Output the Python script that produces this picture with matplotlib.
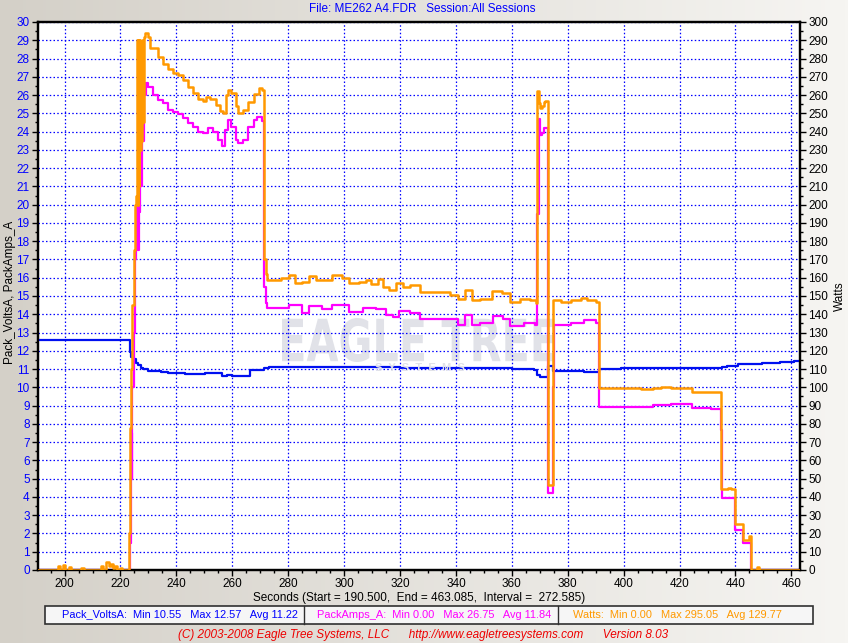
import numpy as np
import matplotlib
matplotlib.use('Agg')
import matplotlib.pyplot as plt
from matplotlib.patches import Rectangle, PathPatch
from matplotlib.textpath import TextPath
from matplotlib.font_manager import FontProperties
from matplotlib.transforms import Affine2D
from matplotlib.ticker import MultipleLocator

plt.rcParams['font.family'] = ['Liberation Sans', 'DejaVu Sans']

# ---- data ----
volts_t = [190.5, 223.3, 223.9, 224.5, 225.6, 226.3, 227.2, 228.1, 229.9, 232.3, 234.6, 237.0,
           243.0, 250.2, 256.2, 258.0, 259.8, 266.4, 271.2, 273.0, 275.4, 300.0, 320.0, 340.0,
           360.0, 368.0, 369.1, 370.0, 372.9, 374.9, 385.7, 391.1, 399.0, 435.2, 436.8, 441.0,
           449.4, 456.0, 461.1, 463.085]
volts_v = [12.57, 11.95, 11.68, 11.57, 11.31, 11.22, 11.04, 10.98, 10.91, 10.87, 10.82, 10.76,
           10.71, 10.76, 10.62, 10.67, 10.64, 10.95, 11.04, 11.13, 11.12, 11.10, 11.08, 11.05,
           11.03, 10.95, 10.67, 10.55, 11.15, 10.91, 10.84, 11.02, 11.06, 11.13, 11.18, 11.26,
           11.33, 11.40, 11.44, 11.44]

amps_t = [190.5, 223.0, 223.3, 223.6, 224.0, 224.3, 224.7, 225.1, 225.5, 225.8, 226.1, 226.5,
          226.8, 227.0, 227.3, 227.6, 228.0, 228.4, 229.0, 229.9, 231.6, 233.4, 235.2, 237.0,
          238.8, 240.6, 242.4, 244.2, 246.0, 247.8, 249.6, 251.4, 253.2, 255.0, 256.4, 257.5,
          258.6, 259.7, 261.2, 262.2, 264.0, 265.8, 267.6, 268.7, 270.8, 271.2, 271.9, 272.3,
          280.2, 285.0, 287.4, 292.2, 295.8, 301.8, 306.6, 311.4, 315.0, 317.4, 319.8, 323.4,
          327.0, 337.8, 340.8, 343.2, 345.6, 348.6, 353.4, 357.0, 359.4, 364.2, 368.4, 369.0,
          369.6, 369.9, 370.2, 370.8, 371.4, 372.9, 374.9, 375.2, 381.0, 385.7, 390.0, 391.1,
          410.4, 417.0, 424.3, 431.3, 434.9, 435.2, 440.0, 442.7, 445.6, 463.085]
amps_v = [0.0, 0.0, 1.5, 7.5, 5.0, 10.0, 13.0, 17.0, 17.5, 20.0, 17.5, 20.0,
          19.6, 23.5, 21.0, 25.0, 23.5, 26.0, 26.67, 26.45, 26.0, 25.73, 25.54, 25.2,
          25.08, 24.94, 24.72, 24.45, 24.23, 23.99, 23.94, 24.18, 23.99, 23.54, 23.2, 24.08,
          24.63, 24.27, 23.54, 23.35, 23.54, 24.27, 24.63, 24.81, 24.6, 15.5, 14.6, 14.32,
          14.5, 14.08, 14.45, 14.27, 14.5, 14.13, 14.32, 14.27, 13.96, 13.83, 14.2, 14.05,
          13.72, 13.72, 13.41, 13.96, 13.41, 13.5, 13.9, 13.72, 13.35, 13.53, 13.41, 19.5,
          24.7, 23.99, 23.8, 23.9, 24.17, 4.2, 10.0, 13.41, 13.54, 13.68, 13.54, 8.94,
          9.01, 9.09, 8.85, 8.83, 7.66, 3.92, 2.19, 1.46, 0.0, 0.0]

watts_t = [190.5, 197.5, 198.3, 199.5, 200.2, 201.5, 202.2, 206.0, 206.8, 213.0, 213.6, 215.0,
           215.8, 216.5, 217.3, 218.0, 218.8, 220.0, 220.6, 222.9, 223.2, 223.5, 223.9, 224.3,
           224.7, 225.1, 225.5, 225.8, 226.0, 226.2, 226.4, 226.6, 226.8, 227.0, 227.2, 227.5,
           227.8, 228.1, 228.4, 228.7, 229.9, 230.7, 231.6, 233.4, 235.2, 237.0, 238.8, 240.6,
           242.4, 244.2, 246.0, 247.8, 249.6, 250.7, 252.1, 254.3, 255.7, 256.8, 257.9, 258.6,
           259.7, 261.2, 262.2, 264.0, 265.8, 267.6, 269.4, 270.5, 271.2, 271.5, 271.9, 272.3,
           277.6, 280.2, 282.6, 285.0, 287.4, 289.8, 292.2, 295.8, 299.4, 301.8, 305.4, 307.8,
           309.6, 312.0, 313.8, 316.2, 318.6, 321.0, 323.4, 327.0, 331.8, 337.8, 340.8, 343.2,
           345.6, 348.6, 352.8, 356.4, 359.4, 363.0, 366.6, 368.7, 369.0, 369.6, 370.2, 370.8,
           371.4, 372.0, 372.9, 374.9, 377.5, 381.0, 384.6, 387.0, 390.0, 391.1, 406.2, 410.4,
           413.5, 417.0, 424.3, 428.0, 434.9, 437.5, 438.5, 440.0, 442.7, 444.9, 445.6, 447.7,
           448.3, 463.085]
watts_v = [0, 2, 0, 3, 0, 1.5, 0, 1, 0, 2, 0, 4.5,
           2, 3.5, 1, 2, 0, 1, 0, 0, 20, 78, 110, 145,
           175, 200, 205, 235, 290, 200, 290, 210, 290, 230, 287, 235,
           290, 245, 292, 294, 292, 286, 285.5, 281, 277, 274, 272, 271,
           268.5, 264.5, 261, 258, 257, 259, 258, 254.5, 251.4, 250, 260, 262.7,
           261, 254, 250, 251.8, 256.3, 260.5, 263.7, 262.7, 262, 170, 162, 159,
           160, 161.5, 157.3, 157.7, 160.9, 159, 158.8, 161.5, 159.7, 157.3, 157.7, 159,
           156.5, 159.2, 155.1, 153.3, 157.3, 155.1, 156, 152.3, 152.3, 150.5, 148.2, 153.3,
           147.8, 148.2, 152.7, 151.4, 146.9, 148.2, 147.8, 146.4, 262, 255.4, 252.7, 254,
           256.3, 257, 46.5, 148, 146.9, 148, 149, 148, 146.9, 99.4, 98.9, 99.4,
           100, 99.4, 97.6, 97.2, 44.2, 45, 44.2, 25.2, 16.4, 18.8, 0, 1.5,
           0, 0]

stats_text = ["Pack_VoltsA:  Min 10.55   Max 12.57   Avg 11.22",
              "PackAmps_A:  Min 0.00   Max 26.75   Avg 11.84",
              "Watts:  Min 0.00   Max 295.05   Avg 129.77"]

W, H = 848, 643
fig = plt.figure(figsize=(W / 100, H / 100), dpi=100)


def fx(px):
    return px / W


def fy(py):
    return 1 - py / H


# grey window background
bg = fig.add_axes([0, 0, 1, 1], zorder=-10)
grad = np.linspace(0, 1, 256)
c0 = np.array([212, 208, 200]) / 255
c1 = np.array([246, 245, 242]) / 255
img = c0[None, :] + (c1 - c0)[None, :] * grad[:, None]
bg.imshow(img[None, :, :], aspect='auto', extent=[0, 1, 0, 1])
bg.axis('off')

ax = fig.add_axes([fx(38), fy(570), fx(800 - 38), (570 - 22) / H])
ax.set_facecolor('white')

# faint watermark
tp = TextPath((0, 0), "EAGLE TREE", size=1, prop=FontProperties(family='DejaVu Sans', weight='bold'))
ext = tp.get_extents()
sx = fx(273) / ext.width
sy = (44 / H) / ext.height
tr = Affine2D().translate(-ext.x0, -ext.y0).scale(sx, sy).translate(fx(282), fy(362)) + fig.transFigure
ax.add_patch(PathPatch(tp, transform=tr, facecolor='#e1e2e8', edgecolor='none', zorder=0.5))
fig.text(fx(420), fy(368), "S  Y  S  T  E  M  S", color='#e1e2e8', fontsize=8, fontweight='bold',
         ha='center', va='center', zorder=1)

grid_kw = dict(color='#0000ff', linestyle=(0, (1.2, 1.8)), linewidth=0.9)
ax.grid(True, which='major', **grid_kw)
ax.set_axisbelow(True)

ax.plot(volts_t, volts_v, color='#0010f0', linewidth=1.6, drawstyle='steps-post', zorder=3)
ax.plot(amps_t, amps_v, color='#ff00ff', linewidth=1.6, drawstyle='steps-post', zorder=4)

ax2 = ax.twinx()
ax2.plot(watts_t, watts_v, color='#ff9900', linewidth=1.8, drawstyle='steps-post', zorder=5)

ax.set_xlim(190.5, 463.085)
ax.set_ylim(0, 30)
ax2.set_ylim(0, 300)

ax.xaxis.set_major_locator(MultipleLocator(20))
ax.xaxis.set_minor_locator(MultipleLocator(5))
ax.yaxis.set_major_locator(MultipleLocator(1))
ax.yaxis.set_minor_locator(MultipleLocator(0.5))
ax2.yaxis.set_major_locator(MultipleLocator(10))
ax2.yaxis.set_minor_locator(MultipleLocator(5))

for a in (ax, ax2):
    for s in a.spines.values():
        s.set_linewidth(1.6)
    a.tick_params(which='major', length=4, width=1, labelsize=8.5, pad=2)
    a.tick_params(which='minor', length=2.5, width=1)
ax.tick_params(axis='y', labelcolor='#0000ff')
ax2.tick_params(axis='y', labelcolor='black')

fig.text(fx(10), fy(292), "Pack_VoltsA, PackAmps_A", fontsize=8.5, rotation=90,
         ha='center', va='center')
ax2.set_ylabel("Watts", fontsize=8.5, labelpad=4)

fig.text(fx(422), fy(9), "File: ME262 A4.FDR   Session:All Sessions", color='#0000ff',
         fontsize=8.5, ha='center', va='center')
fig.text(fx(419), fy(598), "Seconds (Start = 190.500,  End = 463.085,  Interval =  272.585)",
         color='black', fontsize=8.5, ha='center', va='center')

# stats box
fig.add_artist(Rectangle((fx(45), fy(624)), fx(813 - 45), (624 - 606) / H, transform=fig.transFigure,
                         facecolor='#f6f6f6', edgecolor='#303030', linewidth=1.2))
for px in (304, 558):
    fig.add_artist(plt.Line2D([fx(px), fx(px)], [fy(624), fy(606)], transform=fig.transFigure,
                              color='#303030', linewidth=1))
for txt, cx, col in zip(stats_text, (180, 434, 677), ('#0000ff', '#ff00ff', '#ff9900')):
    fig.text(fx(cx), fy(615), txt, color=col, fontsize=7.9, ha='center', va='center')

fig.text(fx(423), fy(635), "(C) 2003-2008 Eagle Tree Systems, LLC      http://www.eagletreesystems.com      Version 8.03",
         color='#ee0000', fontsize=8.5, fontstyle='italic', ha='center', va='center')

fig.savefig('out.png', dpi=100)
